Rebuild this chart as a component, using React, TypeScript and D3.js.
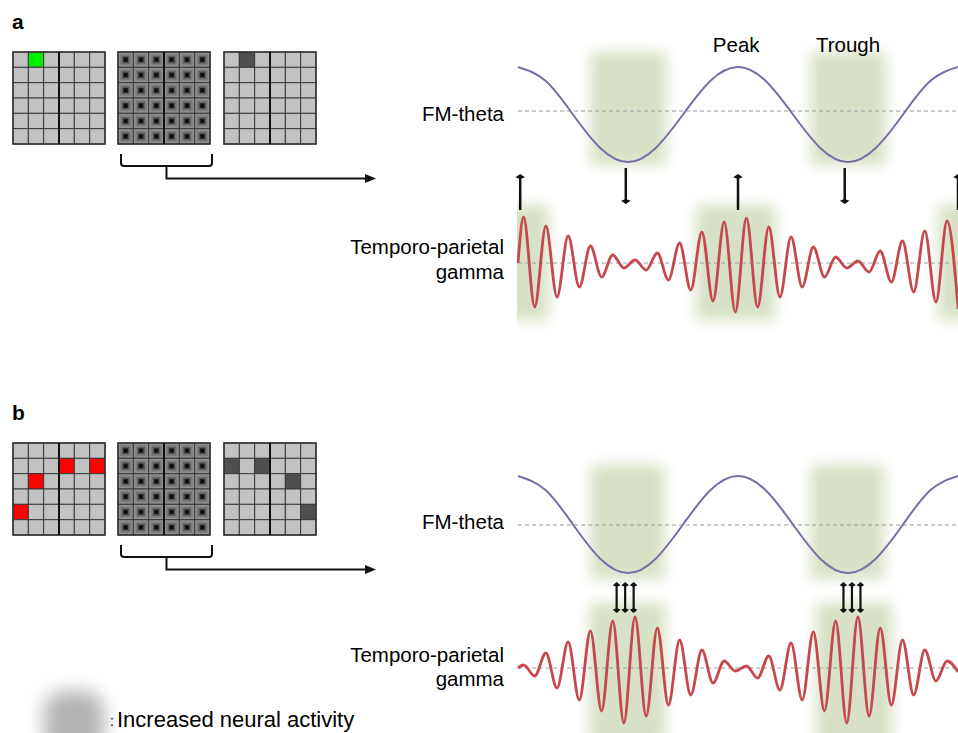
import { useEffect, useRef } from "react";
import * as d3 from "d3";

const W = 958;
const H = 733;

// FM-theta: phase in theta cycles and normalised amplitude
const thetaPhase = [0, 0.125, 0.25, 0.375, 0.5, 0.625, 0.75, 0.875, 1, 1.125, 1.25, 1.375, 1.5, 1.625, 1.75, 1.875, 2];
const thetaValues = [1, 0.71, 0, -0.71, -1, -0.71, 0, 0.71, 1, 0.71, 0, -0.71, -1, -0.71, 0, 0.71, 1];

// gamma cycles per theta cycle
const gammaPerTheta = 9.87;
// gamma extremes, alternating peak / trough (panel a: bursts at theta peak)
const gammaA = [46, -44, 37, -34, 27, -24, 17, -14, 8, -5, 3, -7, 10, -17, 20, -27, 31, -38, 41, -49,
  45, -44, 36, -34, 26, -24, 16, -14, 6, -5, 2, -9, 12, -19, 22, -29, 32, -39, 42, -46];
// panel b: bursts at theta trough
const gammaB = [3, -8, 15, -20, 26, -32, 37, -43, 47, -55, 51, -48, 40, -37, 28, -27, 18, -15, 7, -3,
  2, -10, 12, -22, 25, -32, 36, -43, 47, -55, 51, -48, 40, -37, 28, -27, 18, -13, 7, -4];

// shaded phases (theta cycles)
const thetaBoxesA = [[0.33, 0.672], [1.33, 1.672]];
const gammaBoxesA = [[-0.2, 0.14], [0.81, 1.17], [1.91, 2.3]];
const thetaBoxesB = [[0.33, 0.665], [1.33, 1.665]];
const gammaBoxesB = [[0.325, 0.67], [1.355, 1.70]];

// arrows (theta phase)
const upArrowsA = [0.01, 1, 2];
const downArrowsA = [0.49, 1.485];
const tripleArrowsB = [0.487, 1.518];

// grids: [row, col] of highlighted cells
const cueA = [[0, 1]];
const probeA = [[0, 1]];
const cueB = [[1, 3], [1, 5], [2, 1], [4, 0]];
const probeB = [[1, 0], [1, 2], [2, 4], [4, 5]];

export default function App() {
  const ref = useRef<SVGSVGElement>(null);

  useEffect(() => {
    const el = ref.current;
    if (!el) return;
    const svg = d3.select(el);
    svg.selectAll("*").remove();
    const font = '"Liberation Sans", Arial, Helvetica, sans-serif';

    const defs = svg.append("defs");
    defs.append("filter").attr("id", "soft")
      .attr("x", "-50%").attr("y", "-50%").attr("width", "200%").attr("height", "200%")
      .append("feGaussianBlur").attr("stdDeviation", 7);
    defs.append("filter").attr("id", "blob")
      .attr("x", "-80%").attr("y", "-80%").attr("width", "260%").attr("height", "260%")
      .append("feGaussianBlur").attr("stdDeviation", 9);
    defs.append("clipPath").attr("id", "waveClip")
      .append("rect").attr("x", 517).attr("y", 0).attr("width", W - 517).attr("height", H);

    const x = d3.scaleLinear().domain([0, 2]).range([518, 958]);
    const GRID = 92;
    const gridX = [13, 118, 224];
    const cell = d3.scaleBand<number>().domain(d3.range(6)).range([0, GRID]);
    const cs = cell.bandwidth();

    const panels = [
      {
        label: "a", labelY: 29, gridTop: 52, cue: cueA, cueColor: "#00ee00", probe: probeA,
        thetaRange: [162, 67], thetaDash: 111, thetaBox: [52, 165], thetaLabelY: 121,
        gammaMid: 263, gammaBox: [205, 320], gammaLabelY: [254, 279],
        gamma: gammaA, thetaBoxes: thetaBoxesA, gammaBoxes: gammaBoxesA,
      },
      {
        label: "b", labelY: 420, gridTop: 443, cue: cueB, cueColor: "#ff0000", probe: probeB,
        thetaRange: [573, 476], thetaDash: 525, thetaBox: [465, 579], thetaLabelY: 529,
        gammaMid: 668, gammaBox: [603, 745], gammaLabelY: [662, 686],
        gamma: gammaB, thetaBoxes: thetaBoxesB, gammaBoxes: gammaBoxesB,
      },
    ];

    const rings: [number, string][] = [[2.2, "#7c7c7c"], [3.8, "#5e5e5e"], [5.2, "#262626"], [6, "#0c0c0c"]];

    panels.forEach((p, pi) => {
      const g = svg.append("g");

      g.append("text").attr("x", 12).attr("y", p.labelY)
        .attr("font-family", font).attr("font-weight", "bold").style("font-size", "21px")
        .attr("fill", "#000").text(p.label);

      // grids
      const cells = d3.cross(d3.range(6), d3.range(6));
      gridX.forEach((gx, gi) => {
        const gg = g.append("g").attr("transform", `translate(${gx},${p.gridTop})`);
        const marks = gi === 0 ? p.cue : gi === 2 ? p.probe : [];
        const hit = (r: number, c: number) => marks.some(([mr, mc]) => mr === r && mc === c);
        gg.selectAll("rect.cell").data(cells).join("rect").attr("class", "cell")
          .attr("x", ([, c]) => cell(c)!).attr("y", ([r]) => cell(r)!)
          .attr("width", cs).attr("height", cs)
          .attr("fill", ([r, c]) => gi === 1 ? "#8e8e8e" : hit(r, c) ? (gi === 0 ? p.cueColor : "#4f4f4f") : "#c2c2c2")
          .attr("stroke", "#3a3a3a").attr("stroke-width", 1);
        if (gi === 1) {
          rings.forEach(([ins, col], ri) => {
            gg.selectAll(`rect.ring${ri}`).data(cells).join("rect").attr("class", `ring${ri}`)
              .attr("x", ([, c]) => cell(c)! + ins).attr("y", ([r]) => cell(r)! + ins)
              .attr("width", cs - 2 * ins).attr("height", cs - 2 * ins)
              .attr("fill", col);
          });
        }
        gg.append("rect").attr("width", GRID).attr("height", GRID)
          .attr("fill", "none").attr("stroke", "#333").attr("stroke-width", 1.5);
        gg.append("line").attr("x1", GRID / 2).attr("x2", GRID / 2).attr("y1", 0).attr("y2", GRID)
          .attr("stroke", "#111").attr("stroke-width", 2);
      });

      // bracket + arrow
      const bx0 = gridX[1] + 3, bx1 = gridX[1] + GRID + 2, bmid = (bx0 + bx1) / 2;
      const bt = p.gridTop + GRID + 10, bb = bt + 12, ay = bb + 12.5;
      g.append("path")
        .attr("d", `M${bx0},${bt} L${bx0},${bb - 3} Q${bx0},${bb} ${bx0 + 3},${bb} L${bx1 - 3},${bb} Q${bx1},${bb} ${bx1},${bb - 3} L${bx1},${bt}`)
        .attr("fill", "none").attr("stroke", "#111").attr("stroke-width", 2);
      g.append("path").attr("d", `M${bmid},${bb} L${bmid},${ay} L${366},${ay}`)
        .attr("fill", "none").attr("stroke", "#111").attr("stroke-width", 2);
      g.append("path").attr("d", `M${365},${ay - 4.5} L${376},${ay} L${365},${ay + 4.5} Z`).attr("fill", "#111");

      // shading
      const yT = d3.scaleLinear().domain([-1, 1]).range(p.thetaRange);
      const shade = g.append("g").attr("clip-path", "url(#waveClip)");
      shade.selectAll("rect.tb").data(p.thetaBoxes).join("rect").attr("class", "tb")
        .attr("x", (d) => x(d[0])).attr("width", (d) => x(d[1]) - x(d[0]))
        .attr("y", p.thetaBox[0]).attr("height", p.thetaBox[1] - p.thetaBox[0])
        .attr("fill", "#d6e1c5").attr("filter", "url(#soft)");
      shade.selectAll("rect.gb").data(p.gammaBoxes).join("rect").attr("class", "gb")
        .attr("x", (d) => x(d[0])).attr("width", (d) => x(d[1]) - x(d[0]))
        .attr("y", p.gammaBox[0]).attr("height", p.gammaBox[1] - p.gammaBox[0])
        .attr("fill", "#d6e1c5").attr("filter", "url(#soft)");

      // theta
      g.append("line").attr("x1", x(0)).attr("x2", x(2)).attr("y1", p.thetaDash).attr("y2", p.thetaDash)
        .attr("stroke", "#9a9a9a").attr("stroke-width", 1.2).attr("stroke-dasharray", "4,3");
      const thetaLine = d3.line<number>().x((_, i) => x(thetaPhase[i])).y((d) => yT(d)).curve(d3.curveNatural);
      g.append("path").attr("d", thetaLine(thetaValues))
        .attr("fill", "none").attr("stroke", "#7b6ca8").attr("stroke-width", 2);
      g.append("text").attr("x", 504).attr("y", p.thetaLabelY).attr("text-anchor", "end")
        .attr("font-family", font).style("font-size", "20.5px").text("FM-theta");

      // gamma
      const yG = d3.scaleLinear().domain([-50, 50]).range([p.gammaMid + 50, p.gammaMid - 50]);
      g.append("line").attr("x1", x(0)).attr("x2", x(2)).attr("y1", p.gammaMid).attr("y2", p.gammaMid)
        .attr("stroke", "#98a2ad").attr("stroke-width", 1.2).attr("stroke-dasharray", "4,3");
      const pts: [number, number][] = [[0, 0], ...p.gamma.map((v, k) => [(0.25 + k / 2) / gammaPerTheta, v] as [number, number])];
      const gammaLine = d3.line<[number, number]>().x((d) => x(d[0])).y((d) => yG(d[1])).curve(d3.curveMonotoneX);
      g.append("path").attr("d", gammaLine(pts)).attr("clip-path", "url(#waveClip)")
        .attr("fill", "none").attr("stroke", "#c6474c").attr("stroke-width", 2.8).attr("stroke-linejoin", "round");
      const gl = g.append("text").attr("text-anchor", "end").attr("font-family", font).style("font-size", "20.5px");
      gl.append("tspan").attr("x", 504).attr("y", p.gammaLabelY[0]).text("Temporo-parietal");
      gl.append("tspan").attr("x", 504).attr("y", p.gammaLabelY[1]).text("gamma");

      // arrows
      const head = (hx: number, hy: number, dir: number, w: number) =>
        `M${hx},${hy} L${hx + w},${hy - dir * 3.2} L${hx},${hy - dir * 5} L${hx - w},${hy - dir * 3.2} Z`;
      if (pi === 0) {
        upArrowsA.forEach((t) => {
          const ax = x(t);
          g.append("line").attr("x1", ax).attr("x2", ax).attr("y1", 210).attr("y2", 177)
            .attr("stroke", "#111").attr("stroke-width", 2.5);
          g.append("path").attr("d", head(ax, 174, -1, 4.8)).attr("fill", "#111");
        });
        downArrowsA.forEach((t) => {
          const ax = x(t);
          g.append("line").attr("x1", ax).attr("x2", ax).attr("y1", 168).attr("y2", 201)
            .attr("stroke", "#111").attr("stroke-width", 2.5);
          g.append("path").attr("d", head(ax, 204, 1, 4.8)).attr("fill", "#111");
        });
      } else {
        tripleArrowsB.forEach((t) => {
          [-8.5, 0, 8.5].forEach((o) => {
            const ax = x(t) + o;
            g.append("line").attr("x1", ax).attr("x2", ax).attr("y1", 585).attr("y2", 610)
              .attr("stroke", "#111").attr("stroke-width", 2.2);
            g.append("path").attr("d", head(ax, 582, -1, 3.8)).attr("fill", "#111");
            g.append("path").attr("d", head(ax, 613, 1, 3.8)).attr("fill", "#111");
          });
        });
      }
    });

    // labels Peak / Trough
    svg.append("text").attr("x", x(0.992)).attr("y", 52).attr("text-anchor", "middle")
      .attr("font-family", font).style("font-size", "20.5px").text("Peak");
    svg.append("text").attr("x", x(1.5)).attr("y", 52).attr("text-anchor", "middle")
      .attr("font-family", font).style("font-size", "20.5px").text("Trough");

    // legend
    svg.append("rect").attr("x", 44).attr("y", 691).attr("width", 60).attr("height", 62).attr("rx", 20)
      .attr("fill", "#b4b4b4").attr("filter", "url(#blob)");
    svg.append("text").attr("x", 110).attr("y", 726).attr("font-family", font).style("font-size", "14px").text(":");
    svg.append("text").attr("x", 117).attr("y", 727).attr("font-family", font).style("font-size", "22px")
      .text("Increased neural activity");
  }, []);

  return (
    <svg
      ref={ref}
      width={W}
      height={H}
      style={{ position: "absolute", left: 0, top: 0, display: "block", background: "#fff" }}
    />
  );
}
